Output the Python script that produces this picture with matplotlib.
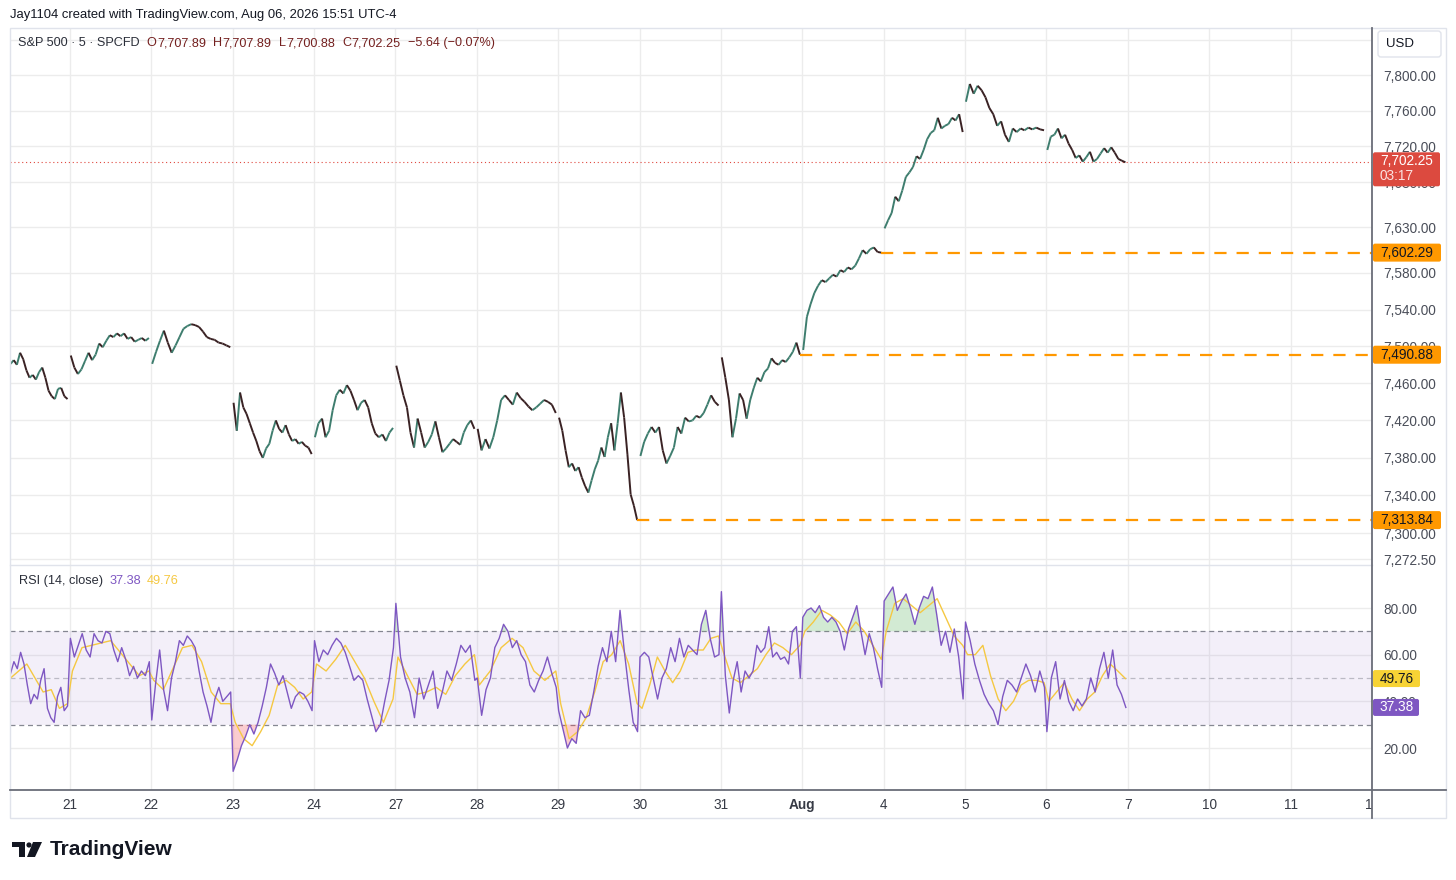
import numpy as np
import matplotlib
matplotlib.use('Agg')
import matplotlib.pyplot as plt
from matplotlib.collections import LineCollection
from matplotlib.patches import Rectangle, Circle, Polygon, FancyBboxPatch
from matplotlib.ticker import FixedLocator, FixedFormatter, NullLocator

plt.rcParams['font.family'] = ['Liberation Sans', 'DejaVu Sans']

W, H = 1456, 880

# session labels on the time axis (index 0 = Jul 21)
day_labels = ['21', '22', '23', '24', '27', '28', '29', '30', '31', 'Aug',
              '4', '5', '6', '7', '10', '11', '12']

# 5 min closes, one list per session
p_jul20 = [7481, 7485, 7480, 7493, 7486, 7474, 7466, 7469, 7464, 7472, 7477,
           7466, 7452, 7446, 7443, 7454, 7455, 7446, 7443]
p_jul21 = [7490, 7477, 7470, 7475, 7484, 7493, 7485, 7491, 7503, 7499, 7506,
           7512, 7510, 7514, 7511, 7514, 7508, 7510, 7505, 7507, 7509, 7506, 7509]
p_jul22 = [7481, 7494, 7506, 7517, 7504, 7493, 7501, 7510, 7519, 7522, 7524,
           7523, 7521, 7516, 7510, 7508, 7507, 7504, 7503, 7501, 7499]
p_jul23 = [7439, 7409, 7450, 7434, 7427, 7417, 7407, 7398, 7387, 7380, 7390,
           7395, 7409, 7420, 7411, 7407, 7415, 7405, 7398, 7400, 7395, 7397,
           7393, 7391, 7384]
p_jul24 = [7402, 7417, 7422, 7402, 7409, 7431, 7447, 7453, 7449, 7458, 7452,
           7442, 7431, 7439, 7442, 7434, 7417, 7406, 7402, 7405, 7398, 7407, 7412]
p_jul27 = [7479, 7463, 7447, 7434, 7407, 7391, 7422, 7407, 7391, 7397, 7405,
           7419, 7402, 7386, 7390, 7395, 7400, 7397, 7394, 7407, 7415, 7420, 7411]
p_jul28 = [7411, 7388, 7400, 7390, 7402, 7420, 7442, 7447, 7442, 7437, 7450,
           7444, 7440, 7435, 7431, 7434, 7438, 7442, 7440, 7437, 7428]
p_jul29 = [7423, 7409, 7388, 7370, 7374, 7366, 7370, 7359, 7350, 7343, 7356,
           7368, 7377, 7391, 7381, 7402, 7417, 7388, 7417, 7450, 7423, 7384,
           7341, 7329, 7313.84]
p_jul30 = [7382, 7397, 7406, 7413, 7407, 7413, 7388, 7374, 7382, 7391, 7413,
           7406, 7423, 7419, 7420, 7425, 7423, 7428, 7437, 7447, 7440, 7436]
p_jul31 = [7488, 7466, 7442, 7402, 7422, 7449, 7442, 7422, 7442, 7455, 7466,
           7462, 7472, 7476, 7487, 7482, 7480, 7485, 7483, 7488, 7494, 7504, 7490.88]
p_aug3 = [7496, 7532, 7546, 7558, 7566, 7572, 7570, 7574, 7578, 7576, 7583,
          7581, 7586, 7584, 7588, 7596, 7605, 7601, 7606, 7608, 7603, 7602.29]
p_aug4 = [7629, 7638, 7646, 7664, 7659, 7671, 7686, 7691, 7697, 7709, 7706,
          7716, 7728, 7735, 7738, 7752, 7740, 7743, 7745, 7752, 7749, 7756, 7736]
p_aug5 = [7770, 7790, 7779, 7788, 7783, 7775, 7763, 7756, 7743, 7748, 7733,
          7725, 7740, 7736, 7740, 7738, 7741, 7739, 7741, 7739, 7738]
p_aug6 = [7716, 7731, 7733, 7740, 7729, 7733, 7723, 7716, 7707, 7710, 7703,
          7708, 7714, 7703, 7706, 7712, 7718, 7713, 7719, 7713, 7706, 7704, 7702.25]

# RSI(14)
r_jul20 = [52, 57, 54, 61, 56, 47, 39, 43, 41, 49, 54, 37, 33, 31, 42, 46, 36, 38]
r_jul21 = [67, 59, 64, 69, 62, 59, 69, 66, 65, 70, 69, 62, 57, 63, 58, 51, 55, 50, 53, 51, 57]
r_jul22 = [32, 48, 62, 45, 36, 50, 57, 66, 64, 68, 66, 63, 53, 44, 38, 31, 41, 46, 40, 42, 44]
r_jul23 = [10, 15, 21, 25, 30, 26, 31, 38, 46, 56, 52, 47, 51, 44, 37, 42, 44, 43, 40, 36]
r_jul24 = [66, 57, 62, 60, 64, 67, 65, 61, 55, 49, 51, 49, 41, 34, 27, 30, 40, 49, 63]
r_jul27 = [82, 59, 50, 44, 33, 50, 41, 47, 53, 37, 44, 53, 49, 56, 64, 61, 64, 49]
r_jul28 = [50, 34, 45, 50, 63, 67, 73, 70, 63, 66, 60, 57, 47, 44, 49, 53, 59, 52, 46]
r_jul29 = [36, 28, 20, 24, 22, 36, 33, 34, 44, 55, 63, 57, 70, 57, 79, 61, 45, 31, 27]
r_jul30 = [59, 61, 59, 50, 41, 50, 54, 63, 57, 67, 59, 64, 62, 60, 73, 79, 67, 59, 60]
r_jul31 = [87, 51, 35, 49, 57, 44, 53, 50, 53, 64, 61, 63, 72, 59, 61, 58, 59, 56, 70, 72, 50]
r_aug3 = [76, 79, 80, 78, 81, 76, 74, 76, 74, 70, 62, 71, 76, 81, 70, 60, 69, 63, 54, 46]
r_aug4 = [83, 86, 89, 79, 83, 86, 80, 73, 80, 85, 84, 89, 77, 64, 70, 61, 71, 59, 41]
r_aug5 = [74, 66, 56, 49, 43, 39, 36, 30, 42, 49, 47, 44, 50, 56, 51, 44, 53, 46]
r_aug6 = [27, 50, 57, 41, 49, 40, 36, 41, 38, 41, 50, 44, 54, 61, 50, 62, 47, 43, 37.38]

# RSI-based MA (yellow)
m_jul20 = [50, 53, 56, 50, 44, 45, 37, 39]
m_jul21 = [53, 63, 64, 65, 66, 61, 56, 51, 53]
m_jul22 = [49, 45, 54, 63, 64, 57, 44, 39, 39]
m_jul23 = [31, 24, 21, 27, 34, 47, 49, 46, 41, 44]
m_jul24 = [56, 53, 58, 64, 57, 50, 40, 31, 41]
m_jul27 = [59, 51, 43, 44, 46, 43, 51, 56, 60]
m_jul28 = [47, 53, 63, 67, 63, 53, 49, 53]
m_jul29 = [39, 24, 27, 33, 44, 57, 60, 66, 56, 39]
m_jul30 = [37, 47, 59, 53, 48, 53, 61, 62, 62, 67, 68]
m_jul31 = [61, 50, 48, 51, 54, 60, 65, 63, 60, 64]
m_aug3 = [70, 74, 79, 77, 74, 69, 74, 70, 64, 58]
m_aug4 = [70, 82, 84, 81, 78, 81, 84, 76, 68, 64]
m_aug5 = [60, 60, 64, 51, 41, 36, 40, 47, 49, 49, 48]
m_aug6 = [40, 44, 48, 41, 36, 41, 44, 51, 56, 53, 49.76]

price_sessions = [p_jul20, p_jul21, p_jul22, p_jul23, p_jul24, p_jul27, p_jul28,
                  p_jul29, p_jul30, p_jul31, p_aug3, p_aug4, p_aug5, p_aug6]
rsi_sessions = [r_jul20, r_jul21, r_jul22, r_jul23, r_jul24, r_jul27, r_jul28,
                r_jul29, r_jul30, r_jul31, r_aug3, r_aug4, r_aug5, r_aug6]
ma_sessions = [m_jul20, m_jul21, m_jul22, m_jul23, m_jul24, m_jul27, m_jul28,
               m_jul29, m_jul30, m_jul31, m_aug3, m_aug4, m_aug5, m_aug6]

price_ticks = [7840, 7800, 7760, 7720, 7680, 7630, 7580, 7540, 7500, 7460,
               7420, 7380, 7340, 7300, 7272.5]
rsi_ticks = [20, 40, 60, 80]

# horizontal levels (value, session whose last close starts the line)
levels = [7602.29, 7490.88, 7313.84]
level_from = [10, 9, 7]

last_close = 7702.25
last_rsi, last_ma = 37.38, 49.76
ohlc = [('O', '7,707.89'), ('H', '7,707.89'), ('L', '7,700.88'), ('C', '7,702.25')]
change = '\u22125.64 (\u22120.07%)'

X0, X1 = -0.737, 16.0


def session_span(i, lo=0.01, hi=0.97):
    if i == 0:
        return -0.73, -0.03
    return i - 1 + lo, i - 1 + hi


def fbox(x0, y0, x1, y1):
    return [x0 / W, 1 - y1 / H, (x1 - x0) / W, (y1 - y0) / H]


fig = plt.figure(figsize=(W / 100, H / 100), dpi=100)
fig.patch.set_facecolor('white')

ax = fig.add_axes(fbox(10, 28, 1372, 565))
ar = fig.add_axes(fbox(10, 566, 1372, 790))

grid_c = '#ececec'
label_c = '#4a4e59'

# ---- price pane
ax.set_yscale('log')
ax.set_xlim(X0, X1)
ax.set_ylim(7266.5, 7853.3)
ax.yaxis.set_major_locator(FixedLocator(price_ticks))
ax.yaxis.set_major_formatter(FixedFormatter([''] + [f'{v:,.2f}' for v in price_ticks[1:]]))
ax.yaxis.set_minor_locator(NullLocator())
ax.yaxis.tick_right()
ax.set_xticks(range(len(day_labels)))
ax.tick_params(axis='x', length=0, labelbottom=False)
ax.tick_params(axis='y', length=0, pad=8, labelsize=9.8, labelcolor=label_c)
ax.grid(True, color=grid_c, lw=1)
ax.set_axisbelow(True)
for s in ax.spines.values():
    s.set_visible(False)

for i, vals in enumerate(price_sessions):
    t0, t1 = session_span(i)
    t = np.linspace(t0, t1, len(vals))
    v = np.asarray(vals, dtype=float)
    pts = np.column_stack([t, v])
    segs = np.stack([pts[:-1], pts[1:]], axis=1)
    cols = np.where(np.diff(v) >= 0, '#3e7d6e', '#3a2224')
    ax.add_collection(LineCollection(segs, colors=cols, linewidths=1.4, zorder=3))

for lv, si in zip(levels, level_from):
    ax.plot([session_span(si)[1], X1], [lv, lv], color='#ff9800', lw=1.6,
            dashes=(5.5, 4.5), zorder=4)
ax.axhline(last_close, color='#e0483e', lw=0.8, dashes=(1, 2.5), zorder=2)

# ---- RSI pane
rt, rv, mt, mv = [], [], [], []
for i, (r, m) in enumerate(zip(rsi_sessions, ma_sessions)):
    t0, t1 = session_span(i, 0.005, 0.975)
    rt.append(np.linspace(t0, t1, len(r)))
    rv.append(np.asarray(r, dtype=float))
    t0, t1 = session_span(i, 0.03, 0.97)
    mt.append(np.linspace(t0, t1, len(m)))
    mv.append(np.asarray(m, dtype=float))
rt, rv = np.concatenate(rt), np.concatenate(rv)
mt, mv = np.concatenate(mt), np.concatenate(mv)

ar.set_xlim(X0, X1)
ar.set_ylim(2, 98)
ar.yaxis.tick_right()
ar.set_yticks(rsi_ticks)
ar.set_yticklabels([f'{v:.2f}' for v in rsi_ticks])
ar.set_xticks(range(len(day_labels)))
ar.set_xticklabels(day_labels)
ar.tick_params(axis='y', length=0, pad=8, labelsize=9.8, labelcolor=label_c)
ar.tick_params(axis='x', length=0, pad=6, labelsize=9.8, labelcolor='#363a45')
for lbl in ar.get_xticklabels():
    if lbl.get_text() == 'Aug':
        lbl.set_fontweight('bold')
ar.grid(True, color=grid_c, lw=1)
ar.set_axisbelow(True)
for s in ar.spines.values():
    s.set_visible(False)

ar.axhspan(30, 70, color='#7e57c2', alpha=0.09, lw=0, zorder=1)
for lv, a in ((70, 0.9), (50, 0.45), (30, 0.9)):
    ar.axhline(lv, color='#787b86', lw=0.9, dashes=(4, 3), alpha=a, zorder=2)
ar.fill_between(rt, rv, 70, where=rv > 70, interpolate=True, color='#4caf50',
                alpha=0.25, lw=0, zorder=2)
ar.fill_between(rt, rv, 30, where=rv < 30, interpolate=True, color='#f23645',
                alpha=0.25, lw=0, zorder=2)
ar.plot(mt, mv, color='#f5c842', lw=1.0, zorder=3)
ar.plot(rt, rv, color='#7e57c2', lw=1.0, zorder=4)

# ---- overlay in pixel coordinates
ov = fig.add_axes([0, 0, 1, 1])
ov.set_xlim(0, W)
ov.set_ylim(H, 0)
ov.axis('off')

frame_c = '#e0e3eb'
axis_c = '#6a6d78'
ov.add_patch(Rectangle((10, 28), 1436, 790, fill=False, ec=frame_c, lw=1))
ov.plot([10, 1372], [565.5, 565.5], color=frame_c, lw=1)
ov.add_patch(Rectangle((1373, 791), 72, 26, fc='white', ec='none'))
ov.plot([1372, 1372], [28, 818], color=axis_c, lw=1.3)
ov.plot([10, 1446], [790, 790], color=axis_c, lw=1.3)


def ypix(axis, val):
    return H - axis.transData.transform((0, val))[1]


def tag(y, text, fc, tc, w=68, h=18):
    ov.add_patch(FancyBboxPatch((1373, y - h / 2), w, h, boxstyle='round,pad=0,rounding_size=2',
                                fc=fc, ec='none', zorder=5))
    ov.text(1380, y, text, fontsize=9.8, color=tc, va='center', ha='left', zorder=6)


for lv in levels:
    tag(ypix(ax, lv), f'{lv:,.2f}', '#ff9800', '#131722')

yc = ypix(ax, last_close)
ov.add_patch(FancyBboxPatch((1373, yc - 10), 67, 34, boxstyle='round,pad=0,rounding_size=2',
                            fc='#dc4a3f', ec='none', zorder=5))
ov.text(1380, yc - 1, f'{last_close:,.2f}', fontsize=9.8, color='white', va='center', zorder=6)
ov.text(1380, yc + 14, '03:17', fontsize=9.8, color='#fbe3e1', va='center', zorder=6)

tag(ypix(ar, last_ma), f'{last_ma:.2f}', '#f7d335', '#131722', w=47, h=17)
tag(ypix(ar, last_rsi), f'{last_rsi:.2f}', '#7e57c2', 'white', w=46, h=17)

ov.add_patch(FancyBboxPatch((1378, 31), 63, 26, boxstyle='round,pad=0,rounding_size=3',
                            fc='white', ec=frame_c, lw=1, zorder=5))
ov.text(1386, 44, 'USD', fontsize=9.5, color='#131722', va='center', zorder=6)

# header and legends (each piece placed after the previous one)
ov.text(10, 15, 'Jay1104 created with TradingView.com, Aug 06, 2026 15:51 UTC-4',
        fontsize=9.35, color='#131722', va='center')

renderer = fig.canvas.get_renderer()


def chain(x, y, pieces, size):
    for txt, col, gap in pieces:
        t = ov.text(x + gap, y, txt, fontsize=size, color=col, va='center')
        x = t.get_window_extent(renderer).x1
    return x


val_c = '#74201f'
pieces = [('S&P 500 \u00b7 5 \u00b7 SPCFD', '#2a2e39', 0)]
for lab, val in ohlc:
    pieces += [(lab, val_c, 7), (val, val_c, 0.5)]
pieces.append((change, val_c, 7))
chain(18, 43, pieces, 9.1)

chain(19, 581, [('RSI (14, close)', '#2a2e39', 0), (f'{last_rsi:.2f}', '#7e57c2', 6),
                (f'{last_ma:.2f}', '#f5c842', 6)], 9.2)

# TradingView logo
ov.add_patch(Polygon([(12, 842), (25, 842), (25, 857), (19, 857), (19, 847.5), (12, 847.5)],
                     closed=True, fc='#131722', ec='none'))
ov.add_patch(Circle((29, 845), 2.6, fc='#131722', ec='none'))
ov.add_patch(Polygon([(33, 842), (42, 842), (35, 857), (27, 857)], closed=True,
                     fc='#131722', ec='none'))
ov.text(50, 849.5, 'TradingView', fontsize=15, fontweight='bold', color='#131722', va='center')

fig.savefig('out.png', dpi=100, facecolor='white')
